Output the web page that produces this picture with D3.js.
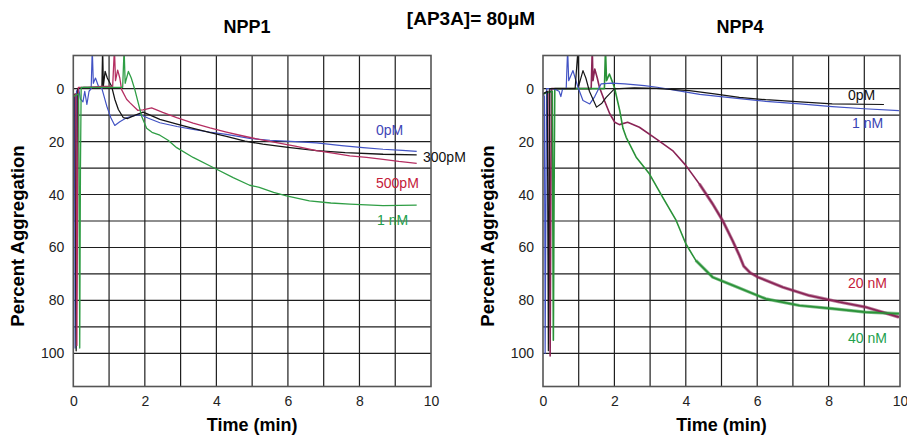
<!DOCTYPE html>
<html>
<head>
<meta charset="utf-8">
<script src="https://cdn.jsdelivr.net/npm/d3@7"></script>
<style>
  body { margin: 0; background: #fff; }
  svg { display: block; }
</style>
</head>
<body>
<div id="chart"></div>
<script>
// ---- data (time in min, percent aggregation) ----
const xTicks = [0, 2, 4, 6, 8, 10];
const yTicks = [0, 20, 40, 60, 80, 100];
const yGrid = [0, 10, 20, 30, 40, 50, 60, 70, 80, 90, 100];
const xGrid = [1, 2, 3, 4, 5, 6, 7, 8, 9];

// NPP1 panel
const npp1_0pM = [[0,2],[0.03,3],[0.05,98],[0.07,60],[0.09,1],[0.15,0],[0.2,4],[0.27,5],[0.32,1],[0.38,6],[0.44,1],[0.5,0],[0.53,-15],[0.56,-2],[0.62,-4],[0.7,-1],[0.8,0],[0.94,6.8],[1.05,11],[1.16,13.9],[1.3,12.5],[1.49,11],[1.7,10.2],[1.86,9.8],[2.1,11.2],[2.42,12.9],[2.9,14.3],[3.35,15.4],[3.8,16.4],[4.28,17.3],[4.93,18.8],[5.5,19.5],[6.2,20],[6.8,20.5],[7.5,21.5],[8.1,22.3],[8.66,22.9],[9.2,23.3],[9.6,23.7]];
const npp1_300pM = [[0,3],[0.05,2],[0.08,99],[0.1,50],[0.12,0],[0.3,-0.5],[0.6,-0.5],[0.8,-0.5],[0.82,-15],[0.84,-1],[0.89,-6.5],[0.95,-4],[1.07,-0.9],[1.16,4],[1.26,7.9],[1.4,11],[1.52,11.3],[1.65,10.5],[1.77,9.8],[1.95,8.9],[2.15,10],[2.42,11.6],[2.9,13.4],[3.35,15],[3.8,16.5],[4.28,18],[4.8,19.8],[5.3,21],[6,22.2],[6.8,23.4],[7.6,24.2],[8.66,24.8],[9.6,25]];
const npp1_500pM = [[0,3],[0.07,2],[0.1,97],[0.12,40],[0.14,-0.5],[0.4,-0.5],[0.8,-0.8],[1.1,-0.8],[1.15,-15],[1.18,-3],[1.24,-7],[1.3,-4],[1.35,0.4],[1.49,4],[1.58,5.3],[1.8,8.2],[1.95,8],[2.19,7.3],[2.5,9],[2.89,11],[3.35,13],[3.82,14.8],[4.28,16.4],[4.75,17.9],[5.2,19.2],[5.68,20.4],[6.2,21.7],[6.8,23.4],[7.3,24.5],[7.73,25.4],[8.2,26],[8.66,26.7],[9.1,27.5],[9.6,28.2]];
const npp1_1nM = [[0,3],[0.15,2],[0.18,98],[0.2,30],[0.22,-0.5],[0.6,-0.5],[1.0,-0.5],[1.38,-0.5],[1.42,-15],[1.45,-2],[1.54,-6.5],[1.62,-4],[1.72,0.4],[1.91,10.4],[2.05,15],[2.2,16.5],[2.42,17.6],[2.65,19.5],[2.89,22.3],[3.35,26],[3.91,29.8],[4.47,33.6],[4.93,36.5],[5.2,37.3],[5.6,39.2],[5.96,40.5],[6.6,42.4],[7.2,43.2],[7.73,43.6],[8.66,44.2],[9.6,44]];

// NPP4 panel
const npp4_0pM = [[0,2],[0.12,1],[0.15,99],[0.17,40],[0.19,0],[0.5,0],[0.9,0],[0.98,-15],[1.0,-1],[1.12,-6.8],[1.2,-4],[1.3,1],[1.5,7],[1.65,5.5],[1.77,3.3],[2.0,0.1],[2.56,-0.3],[3.17,-0.1],[4.1,0.8],[4.8,2],[5.5,3.3],[6.24,4.2],[7.2,5],[8.1,5.8],[9.55,6]];
const npp4_1nM = [[0,2],[0.04,3],[0.06,100],[0.08,50],[0.1,0],[0.3,0],[0.45,1],[0.5,3],[0.55,0],[0.65,0],[0.69,-15],[0.72,-3],[0.84,-6.8],[0.9,-4],[0.98,-0.5],[1.12,4.5],[1.31,5.8],[1.45,3],[1.63,-1.8],[1.91,-2.1],[2.29,-1.8],[2.84,-1.1],[3.2,-0.5],[3.64,0.5],[4.39,2.2],[5.5,3.8],[6.24,4.8],[7.2,5.8],[8.1,6.8],[9.0,7.6],[9.97,8.3]];
const npp4_20nM = [[0,2],[0.17,1],[0.2,101],[0.22,40],[0.24,0],[0.6,0],[1.0,0],[1.35,0],[1.38,-15],[1.4,-3],[1.45,-7.4],[1.52,-4],[1.58,-0.5],[1.72,4.5],[1.87,9.5],[2.01,12.7],[2.14,13.6],[2.37,12.7],[2.7,14.6],[3.17,19],[3.63,23.4],[4.0,29],[4.38,36],[4.75,43.5],[5.03,49.8],[5.31,57.4],[5.5,63],[5.62,67],[5.8,69.5],[6.02,71.2],[6.72,75],[7.45,78.1],[8.3,80.6],[9.03,82.5],[9.97,86.3]];
const npp4_40nM = [[0,2],[0.26,1],[0.29,95],[0.31,40],[0.33,0],[0.8,0],[1.2,0],[1.72,0],[1.75,-15],[1.78,-3],[1.86,-5.5],[1.93,-3],[2.0,-0.5],[2.15,8.3],[2.24,15],[2.33,18.4],[2.61,25.9],[2.98,32.2],[3.35,41],[3.73,49.8],[4.0,58.6],[4.28,64.9],[4.75,71.2],[5.31,74.3],[6.24,79.4],[7.18,81.9],[8.1,83.1],[9.03,84.4],[9.97,85]];

const mainTitle = '[AP3A]= 80μM';

// ---- drawing ----
const W = 907, H = 437;
const svg = d3.select('#chart').append('svg').attr('width', W).attr('height', H);
const FONT = "Arial, 'Liberation Sans', sans-serif";

svg.append('text')
  .attr('x', 471).attr('y', 25)
  .attr('text-anchor', 'middle')
  .attr('font-family', FONT).attr('font-weight', 'bold').attr('font-size', '19px')
  .text(mainTitle);

const panels = [
  {
    id: 'p1', title: 'NPP1', x0: 73.3, x1: 431, titleX: 247,
    series: [
      { data: npp1_0pM, color: '#4253c4', w: 1.2 },
      { data: npp1_300pM, color: '#151515', w: 1.3 },
      { data: npp1_500pM, color: '#b52f62', w: 1.3 },
      { data: npp1_1nM, color: '#2f9e45', w: 1.3 }
    ],
    labels: [
      { text: '0pM', x: 376, y: 135, color: '#4046b8' },
      { text: '300pM', x: 423, y: 162, color: '#111' },
      { text: '500pM', x: 376, y: 188, color: '#c4203a' },
      { text: '1 nM', x: 377, y: 225, color: '#22a04c' }
    ]
  },
  {
    id: 'p2', title: 'NPP4', x0: 543, x1: 900, titleX: 740,
    series: [
      { data: npp4_20nM, color: '#8a2456', w: 1.6, noisy: true },
      { data: npp4_40nM, color: '#2a9238', w: 1.6, noisy: true },
      { data: npp4_1nM, color: '#4253c4', w: 1.2 },
      { data: npp4_0pM, color: '#151515', w: 1.2 }
    ],
    labels: [
      { text: '0pM', x: 848, y: 100, color: '#111' },
      { text: '1 nM', x: 852, y: 128, color: '#3a44b4' },
      { text: '20 nM', x: 848, y: 288, color: '#c4203a' },
      { text: '40 nM', x: 848, y: 343, color: '#22a04c' }
    ]
  }
];

const plotTop = 55.5, plotBottom = 386.5;

panels.forEach(p => {
  const x = d3.scaleLinear().domain([0, 10]).range([p.x0, p.x1]);
  const y = d3.scaleLinear().domain([-12.5, 112.5]).range([plotTop, plotBottom]);
  const g = svg.append('g');

  // Title
  g.append('text')
    .attr('x', p.titleX).attr('y', 33)
    .attr('text-anchor', 'middle')
    .attr('font-family', FONT).attr('font-weight', 'bold').attr('font-size', '18px')
    .text(p.title);

  // Grid
  g.append('g').selectAll('line').data(yGrid).enter().append('line')
    .attr('x1', p.x0).attr('x2', p.x1)
    .attr('y1', d => y(d)).attr('y2', d => y(d))
    .attr('stroke', '#1e1e1e').attr('stroke-width', 1.2);
  g.append('g').selectAll('line').data(xGrid).enter().append('line')
    .attr('x1', d => x(d)).attr('x2', d => x(d))
    .attr('y1', plotTop).attr('y2', plotBottom)
    .attr('stroke', '#1e1e1e').attr('stroke-width', 1.2);

  // Axes (labels only)
  const xAxis = g.append('g').attr('transform', `translate(0,${plotBottom})`)
    .call(d3.axisBottom(x).tickValues(xTicks).tickSize(0).tickPadding(10));
  xAxis.select('.domain').remove();
  xAxis.selectAll('text').attr('font-family', FONT).attr('font-size', '14px').attr('fill', '#222');

  const yAxis = g.append('g').attr('transform', `translate(${p.x0},0)`)
    .call(d3.axisLeft(y).tickValues(yTicks).tickSize(0).tickPadding(9));
  yAxis.select('.domain').remove();
  yAxis.selectAll('text').attr('font-family', FONT).attr('font-size', '14px').attr('fill', '#222');

  // Axis titles
  g.append('text')
    .attr('x', (p.x0 + p.x1) / 2).attr('y', 431)
    .attr('text-anchor', 'middle')
    .attr('font-family', FONT).attr('font-weight', 'bold').attr('font-size', '18px')
    .text('Time (min)');
  g.append('text')
    .attr('transform', `translate(${p.x0 - 49},${(plotTop + plotBottom) / 2 + 15}) rotate(-90)`)
    .attr('text-anchor', 'middle')
    .attr('font-family', FONT).attr('font-weight', 'bold').attr('font-size', '18.5px')
    .text('Percent Aggregation');

  // Traces
  svg.append('clipPath').attr('id', 'clip-' + p.id)
    .append('rect').attr('x', p.x0).attr('y', plotTop).attr('width', p.x1 - p.x0).attr('height', plotBottom - plotTop);

  const line = d3.line().x(d => x(d[0])).y(d => y(d[1]));
  const traces = g.append('g').attr('clip-path', `url(#clip-${p.id})`);

  // noisy tails of the fast traces drawn as a wider band
  traces.selectAll('path.band').data(p.series.filter(s => s.noisy)).enter().append('path')
    .attr('class', 'band')
    .attr('d', d => line(d.data.filter(v => v[0] >= 4.2)))
    .attr('fill', 'none')
    .attr('stroke', d => d.color)
    .attr('stroke-opacity', 0.6)
    .attr('stroke-width', 3.2)
    .attr('stroke-linejoin', 'round');

  traces.selectAll('path.trace').data(p.series).enter().append('path')
    .attr('class', 'trace')
    .attr('d', d => line(d.data))
    .attr('fill', 'none')
    .attr('stroke', d => d.color)
    .attr('stroke-width', d => d.w)
    .attr('stroke-linejoin', 'round');

  // Border
  g.append('rect')
    .attr('x', p.x0).attr('y', plotTop).attr('width', p.x1 - p.x0).attr('height', plotBottom - plotTop)
    .attr('fill', 'none').attr('stroke', '#555').attr('stroke-width', 1.6);

  // Series labels
  g.append('g').selectAll('text').data(p.labels).enter().append('text')
    .attr('x', d => d.x).attr('y', d => d.y)
    .attr('fill', d => d.color)
    .attr('font-family', FONT).attr('font-size', '14px')
    .text(d => d.text);
});
</script>
</body>
</html>
